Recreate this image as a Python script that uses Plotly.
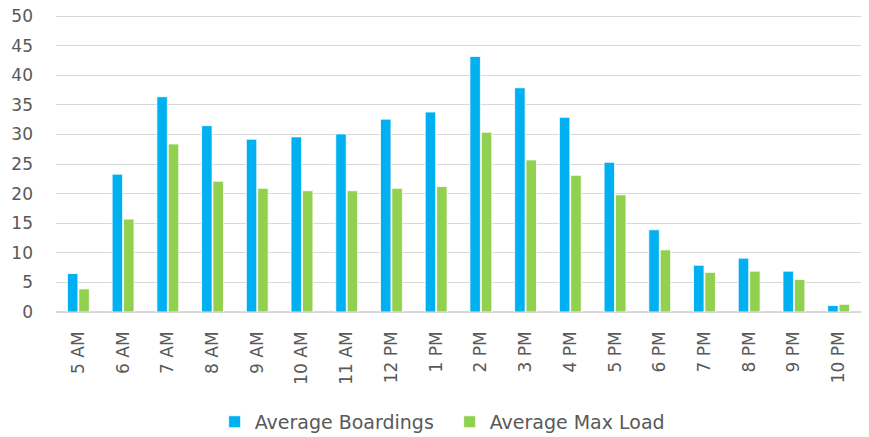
import plotly.graph_objects as go

hours = ["5 AM", "6 AM", "7 AM", "8 AM", "9 AM", "10 AM", "11 AM", "12 PM", "1 PM",
         "2 PM", "3 PM", "4 PM", "5 PM", "6 PM", "7 PM", "8 PM", "9 PM", "10 PM"]
avg_boardings = [6.5, 23.3, 36.4, 31.5, 29.2, 29.6, 30.1, 32.6, 33.8,
                 43.2, 37.9, 32.9, 25.3, 13.9, 7.9, 9.1, 6.9, 1.1]
avg_max_load = [3.9, 15.7, 28.4, 22.1, 20.9, 20.5, 20.5, 20.9, 21.2,
                30.4, 25.7, 23.1, 19.8, 10.5, 6.7, 6.9, 5.5, 1.3]
y_ticks = [0, 5, 10, 15, 20, 25, 30, 35, 40, 45, 50]

FONT = "DejaVu Sans"
GREY = "#595959"

fig = go.Figure()
fig.add_trace(go.Bar(x=hours, y=avg_boardings, name="Average Boardings",
                     marker=dict(color="#00B0F0", line=dict(color="white", width=0.8))))
fig.add_trace(go.Bar(x=hours, y=avg_max_load, name="Average Max Load",
                     marker=dict(color="#92D050", line=dict(color="white", width=0.8))))

fig.update_layout(
    width=869, height=437,
    margin=dict(l=56, r=8, t=15, b=125, autoexpand=False),
    paper_bgcolor="white", plot_bgcolor="white",
    barmode="group", bargap=0.49, bargroupgap=0.08,
    font=dict(family=FONT, color=GREY, size=17),
    legend=dict(orientation="h", x=0.489, xanchor="center", y=-0.37, yanchor="middle",
                font=dict(family=FONT, size=19, color=GREY),
                entrywidth=190, itemclick=False),
    xaxis=dict(tickangle=-90, tickfont=dict(size=17, color=GREY), showline=False,
               ticks="", showgrid=False, automargin=False, ticklabelstandoff=15),
    yaxis=dict(range=[0, 50.2], tickvals=y_ticks, tickfont=dict(size=17, color=GREY),
               showgrid=True, gridcolor="#D9D9D9", gridwidth=1.3,
               zeroline=True, zerolinecolor="#D9D9D9", zerolinewidth=1.5,
               ticks="", ticklabelstandoff=22, automargin=False,
               ticklabeloverflow="allow"),
)

fig.write_html("out.html",
               config={"displayModeBar": False},
               post_script="document.body.style.margin='0';document.body.style.overflow='hidden';")
